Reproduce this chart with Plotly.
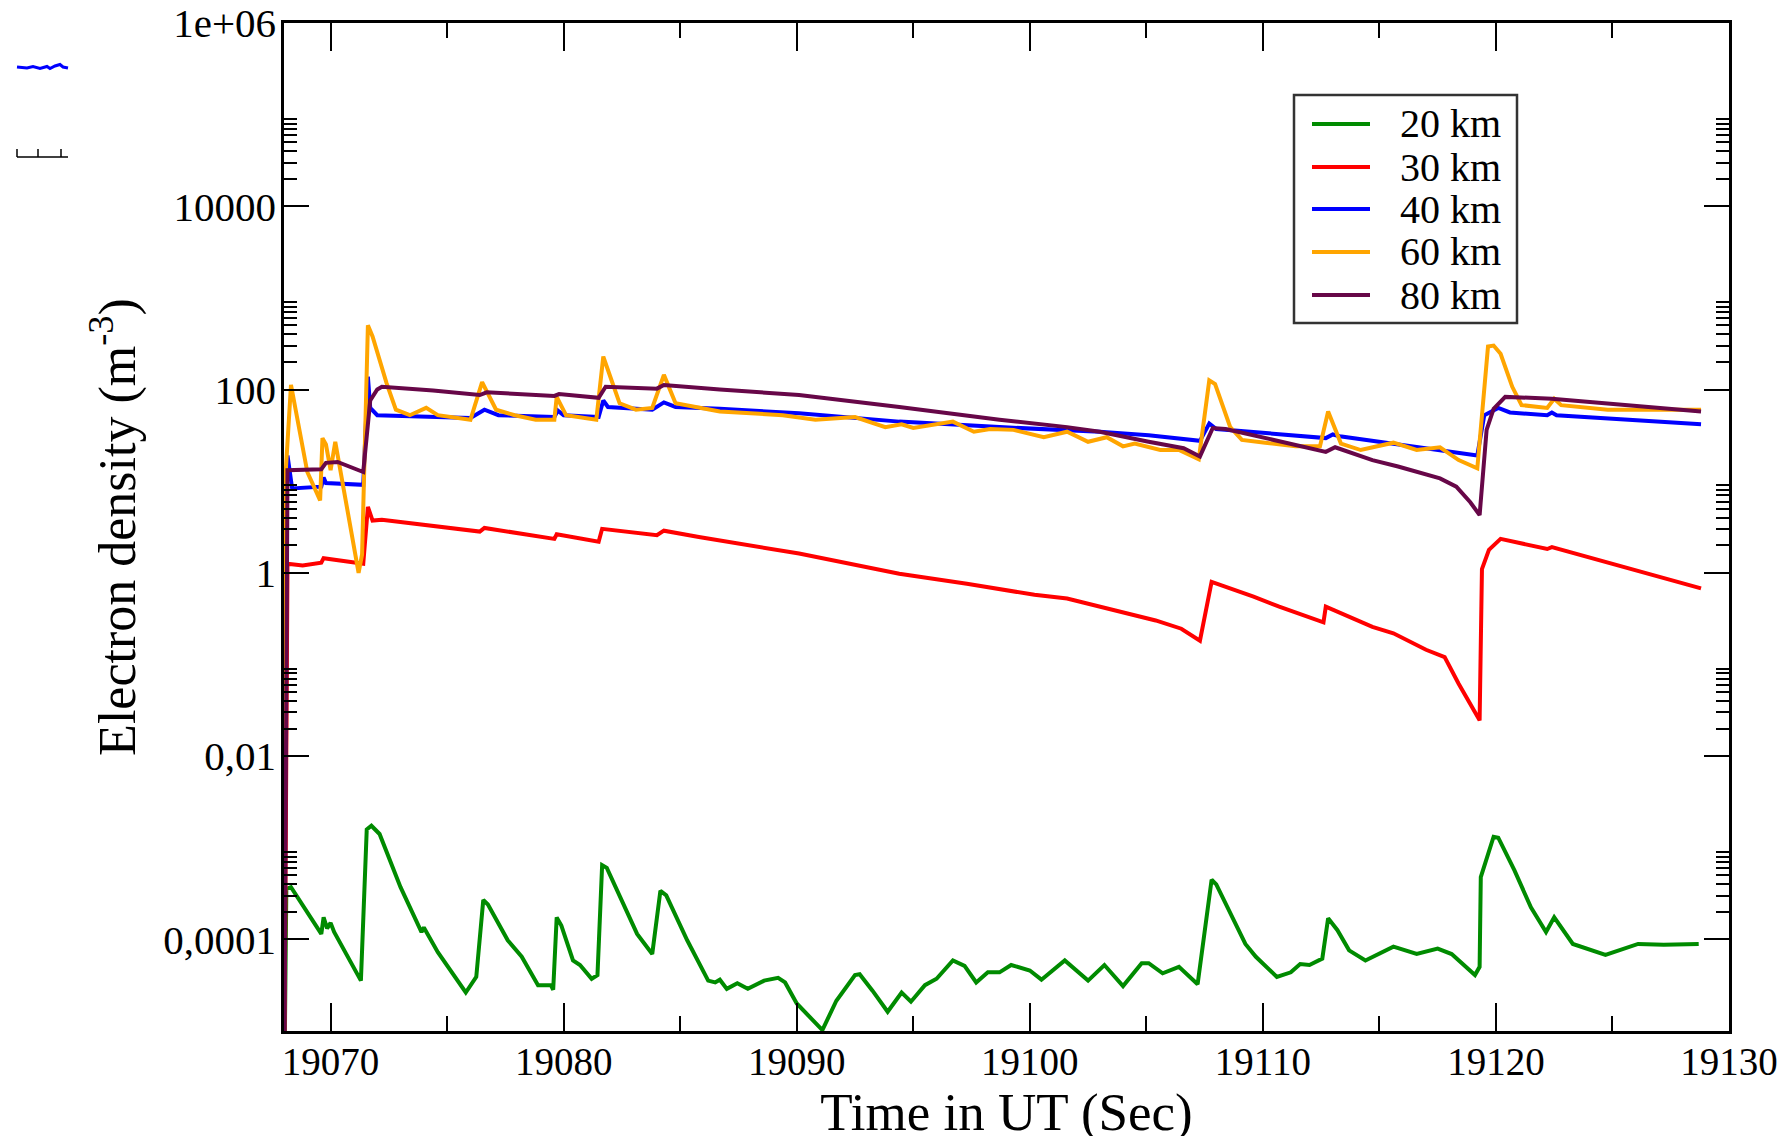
import plotly.graph_objects as go

# ---------------- data ----------------
# time in UT (s) and log10 of electron density (m^-3) for every altitude
t_20km = [19068.0, 19068.1, 19068.3, 19069.6, 19069.7, 19069.85, 19070.0, 19070.15, 19071.3, 19071.55,
          19071.75, 19072.1, 19073.0, 19073.9, 19074.0, 19074.6, 19075.8, 19076.25, 19076.55, 19076.75,
          19077.6, 19078.2, 19078.9, 19079.45, 19079.55, 19079.7, 19079.9, 19080.4, 19080.7, 19081.2,
          19081.45, 19081.65, 19081.85, 19082.5, 19083.15, 19083.8, 19084.15, 19084.4, 19085.3, 19086.2,
          19086.5, 19086.7, 19087.0, 19087.45, 19087.9, 19088.6, 19089.2, 19089.5, 19090.0, 19091.1,
          19091.7, 19092.5, 19092.7, 19093.25, 19093.9, 19094.5, 19094.9, 19095.5, 19096.0, 19096.7,
          19097.2, 19097.7, 19098.2, 19098.7, 19099.2, 19100.0, 19100.5, 19101.5, 19102.5, 19103.2,
          19104.0, 19104.8, 19105.1, 19105.7, 19106.4, 19107.2, 19107.8, 19108.0, 19109.25, 19109.7,
          19110.6, 19111.2, 19111.6, 19112.0, 19112.55, 19112.8, 19113.2, 19113.7, 19114.4, 19115.6,
          19116.6, 19117.5, 19118.1, 19119.1, 19119.3, 19119.35, 19119.6, 19119.9, 19120.1, 19120.8,
          19121.5, 19122.15, 19122.5, 19123.3, 19124.7, 19126.1, 19127.2, 19128.7]
lg_20km = [-6.0, -3.45, -3.43, -3.94, -3.76, -3.88, -3.82, -3.92, -4.45, -2.80,
           -2.76, -2.85, -3.43, -3.92, -3.87, -4.14, -4.58, -4.41, -3.57, -3.62,
           -4.01, -4.19, -4.50, -4.50, -4.55, -3.76, -3.85, -4.23, -4.28, -4.43,
           -4.39, -3.19, -3.22, -3.57, -3.94, -4.16, -3.47, -3.52, -4.01, -4.45,
           -4.47, -4.44, -4.54, -4.48, -4.54, -4.45, -4.42, -4.47, -4.70, -4.99,
           -4.67, -4.39, -4.38, -4.56, -4.79, -4.58, -4.68, -4.50, -4.43, -4.23,
           -4.29, -4.47, -4.36, -4.36, -4.28, -4.34, -4.44, -4.23, -4.45, -4.28,
           -4.51, -4.26, -4.26, -4.37, -4.30, -4.49, -3.35, -3.40, -4.05, -4.19,
           -4.41, -4.36, -4.27, -4.28, -4.21, -3.77, -3.90, -4.12, -4.23, -4.08,
           -4.16, -4.10, -4.16, -4.39, -4.30, -3.32, -3.12, -2.88, -2.89, -3.25,
           -3.65, -3.92, -3.76, -4.05, -4.17, -4.05, -4.06, -4.05]

t_30km = [19068.0, 19068.15, 19068.8, 19069.6, 19069.7, 19070.3, 19071.4, 19071.6, 19071.8, 19072.2,
          19076.4, 19076.6, 19079.6, 19079.7, 19081.5, 19081.65, 19084.0, 19084.3, 19085.8, 19090.1,
          19094.4, 19097.3, 19100.2, 19101.6, 19103.0, 19104.5, 19105.4, 19106.5, 19107.3, 19107.8,
          19108.4, 19109.6, 19110.7, 19112.6, 19112.7, 19114.7, 19115.6, 19117.0, 19117.8, 19118.4,
          19119.3, 19119.4, 19119.7, 19120.2, 19122.2, 19122.4, 19128.8]
lg_30km = [-6.0, 0.10, 0.08, 0.11, 0.16, 0.14, 0.10, 0.72, 0.57, 0.58,
           0.45, 0.49, 0.37, 0.42, 0.34, 0.48, 0.41, 0.46, 0.39, 0.21,
           -0.01, -0.12, -0.24, -0.28, -0.37, -0.46, -0.52, -0.61, -0.74, -0.10,
           -0.15, -0.26, -0.37, -0.54, -0.37, -0.59, -0.66, -0.84, -0.92, -1.21,
           -1.61, 0.04, 0.25, 0.37, 0.26, 0.28, -0.17]

t_40km = [19068.0, 19068.05, 19068.15, 19068.35, 19069.6, 19069.7, 19069.8, 19071.4, 19071.6, 19071.7,
          19072.0, 19076.0, 19076.6, 19077.2, 19079.6, 19079.75, 19080.0, 19081.5, 19081.7, 19081.9,
          19083.8, 19084.3, 19084.8, 19086.7, 19090.1, 19094.4, 19098.7, 19103.0, 19105.1, 19107.3,
          19107.7, 19108.0, 19112.7, 19113.0, 19113.3, 19119.2, 19119.5, 19120.1, 19120.6, 19122.2,
          19122.4, 19122.6, 19128.8]
lg_40km = [-6.0, 0.30, 1.28, 0.92, 0.94, 1.04, 0.98, 0.96, 2.14, 1.80,
           1.72, 1.69, 1.78, 1.72, 1.70, 1.77, 1.72, 1.70, 1.88, 1.81,
           1.78, 1.86, 1.81, 1.79, 1.74, 1.65, 1.59, 1.54, 1.50, 1.44,
           1.63, 1.57, 1.47, 1.51, 1.49, 1.28, 1.72, 1.80, 1.75, 1.72,
           1.75, 1.72, 1.62]

t_60km = [19068.0, 19068.05, 19068.3, 19069.0, 19069.55, 19069.65, 19069.8, 19070.0, 19070.2, 19071.2,
          19071.35, 19071.6, 19071.8, 19072.4, 19072.8, 19073.4, 19074.1, 19074.6, 19076.0, 19076.5,
          19077.1, 19077.9, 19078.8, 19079.6, 19079.7, 19080.1, 19081.4, 19081.7, 19082.0, 19082.4,
          19083.1, 19083.8, 19084.3, 19084.8, 19086.7, 19089.4, 19090.8, 19092.5, 19093.8, 19094.5,
          19095.0, 19096.7, 19097.6, 19098.3, 19099.3, 19100.6, 19101.6, 19102.5, 19103.3, 19104.0,
          19104.5, 19105.6, 19106.4, 19107.1, 19107.25, 19107.7, 19107.95, 19108.6, 19109.1, 19110.1,
          19111.4, 19112.45, 19112.8, 19113.35, 19114.2, 19115.6, 19116.6, 19117.6, 19118.4, 19119.2,
          19119.66, 19119.9, 19120.2, 19120.7, 19121.1, 19122.2, 19122.5, 19122.8, 19124.8, 19128.8]
lg_60km = [-6.0, 1.00, 2.05, 1.10, 0.79, 1.47, 1.40, 1.12, 1.43, 0.00,
           0.20, 2.70, 2.58, 2.07, 1.78, 1.72, 1.80, 1.72, 1.67, 2.08,
           1.78, 1.72, 1.67, 1.67, 1.92, 1.72, 1.67, 2.36, 2.14, 1.85,
           1.78, 1.80, 2.16, 1.85, 1.76, 1.72, 1.67, 1.70, 1.59, 1.62,
           1.58, 1.65, 1.54, 1.57, 1.56, 1.48, 1.54, 1.43, 1.48, 1.38,
           1.41, 1.34, 1.34, 1.25, 1.24, 2.10, 2.06, 1.59, 1.45, 1.42,
           1.38, 1.38, 1.76, 1.41, 1.34, 1.42, 1.34, 1.37, 1.23, 1.14,
           2.47, 2.48, 2.39, 2.03, 1.83, 1.80, 1.90, 1.83, 1.78, 1.78]

t_80km = [19068.0, 19068.15, 19069.6, 19069.8, 19070.3, 19071.4, 19071.7, 19072.0, 19072.2, 19074.4,
          19076.4, 19076.7, 19079.6, 19079.8, 19081.5, 19081.8, 19084.0, 19084.3, 19086.7, 19090.1,
          19094.4, 19098.7, 19101.6, 19103.0, 19105.1, 19106.6, 19107.3, 19107.85, 19108.4, 19112.7,
          19113.1, 19114.7, 19115.8, 19117.6, 19118.3, 19118.9, 19119.3, 19119.6, 19119.9, 19120.4,
          19122.4, 19128.8]
lg_80km = [-6.0, 1.12, 1.13, 1.20, 1.21, 1.10, 1.88, 2.00, 2.03, 1.99,
           1.94, 1.97, 1.93, 1.95, 1.91, 2.03, 2.01, 2.05, 2.00, 1.94,
           1.81, 1.67, 1.59, 1.54, 1.43, 1.36, 1.27, 1.58, 1.57, 1.32,
           1.37, 1.23, 1.16, 1.03, 0.94, 0.77, 0.63, 1.56, 1.79, 1.92,
           1.90, 1.76]

series_names = ["20 km", "30 km", "40 km", "60 km", "80 km"]
series_colors = ["#008b00", "#ff0000", "#0000ff", "#ffa500", "#670748"]
series_t = [t_20km, t_30km, t_40km, t_60km, t_80km]
series_lg = [lg_20km, lg_30km, lg_40km, lg_60km, lg_80km]

y_tickvals = [1e-4, 1e-2, 1, 1e2, 1e4, 1e6]
y_ticktext = ["0,0001", "0,01", "1", "100", "10000", "1e+06"]
x_tickvals = [19070, 19080, 19090, 19100, 19110, 19120, 19130]
x_ticktext = ["19070", "19080", "19090", "19100", "19110", "19120", "19130"]

# ---------------- figure ----------------
W, H = 1791, 1136
PAGE_OFF = 8                      # default body margin of the html page
ML, MR, MT, MB = 276, 70, 15, 113
FONT = "Liberation Serif"
PLOT_W = W - ML - MR
PLOT_H = H - MT - MB


def px(xp, yp):
    """screen pixel position -> paper coordinates (for decorations only)"""
    return (xp - PAGE_OFF - ML) / PLOT_W, (PAGE_OFF + H - MB - yp) / PLOT_H


fig = go.Figure()
for name, color, t, lg in zip(series_names, series_colors, series_t, series_lg):
    fig.add_trace(go.Scatter(
        x=t, y=[10 ** v for v in lg], name=name, mode="lines",
        line=dict(color=color, width=4), showlegend=False,
    ))

minor_vals = [k * 10.0 ** m for m in (-4, -2, 0, 2, 4) for k in range(2, 10)]

fig.update_layout(
    width=W, height=H,
    margin=dict(l=ML, r=MR, t=MT, b=MB, autoexpand=False),
    paper_bgcolor="white", plot_bgcolor="white",
    font=dict(family=FONT, color="black", size=38),
    showlegend=False,
)
fig.update_xaxes(
    range=[19068, 19130], tickmode="array", tickvals=x_tickvals, ticktext=x_ticktext,
    showgrid=False, zeroline=False, showline=True, linecolor="black", linewidth=2.5,
    mirror="ticks", ticks="inside", ticklen=28, tickwidth=2, tickcolor="black",
    tickfont=dict(family=FONT, size=39, color="black"), ticklabelstandoff=-6,
    ticklabeloverflow="allow",
    minor=dict(dtick=5, tick0=19065, ticks="inside", ticklen=15, tickwidth=2,
               tickcolor="black", showgrid=False),
    title=dict(text="Time in UT (Sec)", font=dict(family=FONT, size=53, color="black"), standoff=6),
)
fig.update_yaxes(
    type="log", range=[-5, 6], tickmode="array", tickvals=y_tickvals, ticktext=y_ticktext,
    showgrid=False, zeroline=False, showline=True, linecolor="black", linewidth=2.5,
    mirror="ticks", ticks="inside", ticklen=25, tickwidth=2, tickcolor="black",
    tickfont=dict(family=FONT, size=41, color="black"), ticklabelstandoff=-3,
    ticklabeloverflow="allow",
    minor=dict(tickmode="array", tickvals=minor_vals, ticks="inside", ticklen=13,
               tickwidth=2, tickcolor="black", showgrid=False),
    title=dict(text="Electron density (m<sup>-3</sup>)", font=dict(family=FONT, size=52, color="black"),
               standoff=12),
)

# ---------- legend box (drawn by hand to match the reference layout) ----------
x0, y0 = px(1294, 95)
x1, y1 = px(1517, 323)
fig.add_shape(type="rect", xref="paper", yref="paper", x0=x0, y0=y1, x1=x1, y1=y0,
              line=dict(color="#333333", width=2.5), fillcolor="white", layer="above")
row_y = [124, 167, 209, 252, 295]
for name, color, ry in zip(series_names, series_colors, row_y):
    lx0, ly = px(1312, ry)
    lx1, _ = px(1370, ry)
    fig.add_shape(type="line", xref="paper", yref="paper", x0=lx0, x1=lx1, y0=ly, y1=ly,
                  line=dict(color=color, width=4), layer="above")
    tx, _ = px(1398, ry)
    fig.add_annotation(xref="paper", yref="paper", x=tx, y=ly, text=name, showarrow=False,
                       xanchor="left", yanchor="middle",
                       font=dict(family=FONT, size=40, color="black"))

# ---------- small stray marks at the top-left corner of the reference ----------
scribble = [(17, 67), (27, 68), (33, 66.5), (40, 68.5), (47, 66.5), (50, 68.5), (55, 66), (60, 64.5),
            (63, 67), (68, 68)]
path = ""
for i, (a, b) in enumerate(scribble):
    pa, pb = px(a, b)
    path += ("M" if i == 0 else "L") + f"{pa},{pb} "
fig.add_shape(type="path", xref="paper", yref="paper", path=path,
              line=dict(color="#0000ff", width=3))
ax_a, ax_y = px(17, 157)
ax_b, _ = px(68, 157)
fig.add_shape(type="line", xref="paper", yref="paper", x0=ax_a, x1=ax_b, y0=ax_y, y1=ax_y,
              line=dict(color="black", width=1.5))
for tx_ in (17, 38, 61):
    a, b_low = px(tx_, 157)
    _, b_high = px(tx_, 149)
    fig.add_shape(type="line", xref="paper", yref="paper", x0=a, x1=a, y0=b_low, y1=b_high,
                  line=dict(color="black", width=1.5))

fig.write_html("out.html")
